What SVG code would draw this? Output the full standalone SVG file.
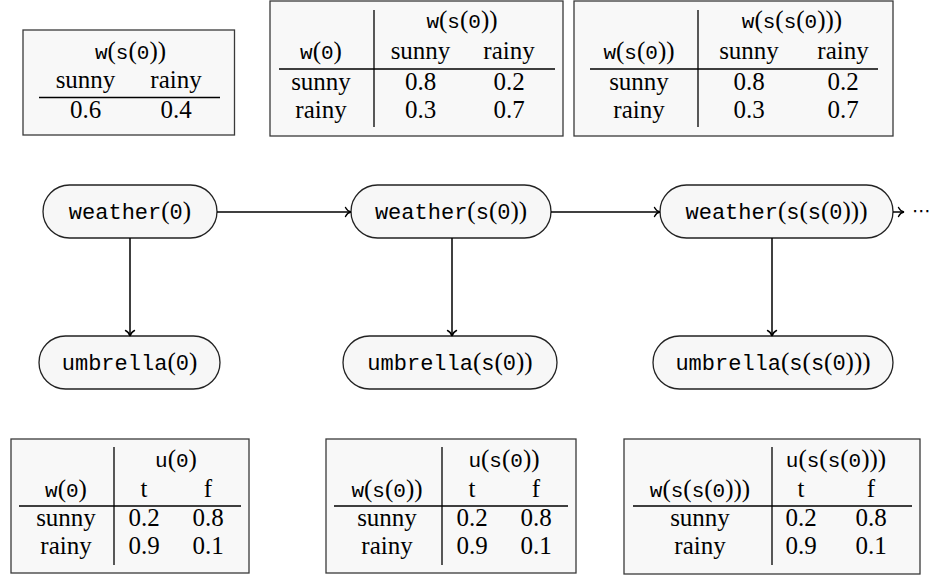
<svg xmlns="http://www.w3.org/2000/svg" width="935" height="577" viewBox="0 0 935 577">
  <defs>
    <style>
      text { font-family: "Liberation Serif", "DejaVu Serif", "Noto Serif", serif; }
      .rm { font-family: "Liberation Serif", "DejaVu Serif", "Noto Serif", serif; font-size: 25px; fill: #000; text-anchor: middle; }
      .tt { font-family: "Liberation Mono", "Courier New", monospace; font-size: 21px; }
      .nd .tt { font-size: 22px; }
      .nd { font-size: 26px; }
      .box { fill: #f8f8f8; stroke: #3a3a3a; stroke-width: 1.3; }
      .rule { stroke: #000; stroke-width: 1.3; }
      .node { fill: #f7f7f7; stroke: #222; stroke-width: 1.3; }
      .edge { fill: none; stroke: #000; stroke-width: 1.5; marker-end: url(#arrow); }
      .dots { font-family: "DejaVu Sans", sans-serif; font-size: 19px; fill: #000; }
    </style>
    <marker id="arrow" markerUnits="userSpaceOnUse" markerWidth="14" markerHeight="14" refX="0" refY="0" viewBox="-7 -7 14 14" orient="auto" overflow="visible">
      <path d="M-5.5,-4.5 C-4,-1.5 -1.5,-0.3 0,0 C-1.5,0.3 -4,1.5 -5.5,4.5" fill="none" stroke="#000" stroke-width="1.4" stroke-linecap="round"/>
    </marker>
  </defs>

  <!-- prior distribution of the first weather variable -->
  <g id="cpt_w0">
    <rect class="box" x="23" y="30" width="211.5" height="105"/>
    <text class="rm" x="130.5" y="58.5"><tspan class="tt">w</tspan>(<tspan class="tt">s</tspan>(<tspan class="tt">0</tspan>))</text>
    <text class="rm" x="85.5" y="88">sunny</text>
    <text class="rm" x="176" y="88">rainy</text>
    <line class="rule" x1="39" y1="97.5" x2="220" y2="97.5"/>
    <text class="rm" x="85.5" y="118">0.6</text>
    <text class="rm" x="176" y="118">0.4</text>
  </g>

  <!-- transition table w(0) -> w(s(0)) -->
  <g id="cpt_w1">
    <rect class="box" x="270" y="1" width="293" height="135"/>
    <line class="rule" x1="374" y1="10" x2="374" y2="127"/>
    <line class="rule" x1="279" y1="69" x2="555" y2="69"/>
    <text class="rm" x="462" y="28"><tspan class="tt">w</tspan>(<tspan class="tt">s</tspan>(<tspan class="tt">0</tspan>))</text>
    <text class="rm" x="321" y="58.5"><tspan class="tt">w</tspan>(<tspan class="tt">0</tspan>)</text>
    <text class="rm" x="420.5" y="58.5">sunny</text>
    <text class="rm" x="509" y="58.5">rainy</text>
    <text class="rm" x="321" y="89.5">sunny</text>
    <text class="rm" x="420.5" y="89.5">0.8</text>
    <text class="rm" x="509" y="89.5">0.2</text>
    <text class="rm" x="321" y="118">rainy</text>
    <text class="rm" x="420.5" y="118">0.3</text>
    <text class="rm" x="509" y="118">0.7</text>
  </g>

  <!-- transition table w(s(0)) -> w(s(s(0))) -->
  <g id="cpt_w2">
    <rect class="box" x="574" y="1" width="319" height="135"/>
    <line class="rule" x1="698" y1="10" x2="698" y2="127"/>
    <line class="rule" x1="590" y1="69" x2="878" y2="69"/>
    <text class="rm" x="792" y="28"><tspan class="tt">w</tspan>(<tspan class="tt">s</tspan>(<tspan class="tt">s</tspan>(<tspan class="tt">0</tspan>)))</text>
    <text class="rm" x="639" y="58.5"><tspan class="tt">w</tspan>(<tspan class="tt">s</tspan>(<tspan class="tt">0</tspan>))</text>
    <text class="rm" x="749" y="58.5">sunny</text>
    <text class="rm" x="843" y="58.5">rainy</text>
    <text class="rm" x="639" y="89.5">sunny</text>
    <text class="rm" x="749" y="89.5">0.8</text>
    <text class="rm" x="843" y="89.5">0.2</text>
    <text class="rm" x="639" y="118">rainy</text>
    <text class="rm" x="749" y="118">0.3</text>
    <text class="rm" x="843" y="118">0.7</text>
  </g>

  <!-- chain nodes -->
  <g id="weather_0" class="nd">
    <rect class="node" x="43" y="185" width="174" height="53" rx="26.5"/>
    <text class="rm" x="130" y="218.5"><tspan class="tt">weather</tspan>(<tspan class="tt">0</tspan>)</text>
  </g>
  <g id="weather_1" class="nd">
    <rect class="node" x="351" y="185" width="200" height="53" rx="26.5"/>
    <text class="rm" x="451" y="218.5"><tspan class="tt">weather</tspan>(<tspan class="tt">s</tspan>(<tspan class="tt">0</tspan>))</text>
  </g>
  <g id="weather_2" class="nd">
    <rect class="node" x="660" y="185" width="233" height="53" rx="26.5"/>
    <text class="rm" x="776.5" y="218.5"><tspan class="tt">weather</tspan>(<tspan class="tt">s</tspan>(<tspan class="tt">s</tspan>(<tspan class="tt">0</tspan>)))</text>
  </g>
  <g id="umbrella_0" class="nd">
    <rect class="node" x="39" y="336" width="181" height="53" rx="26.5"/>
    <text class="rm" x="129.5" y="369.5"><tspan class="tt">umbrella</tspan>(<tspan class="tt">0</tspan>)</text>
  </g>
  <g id="umbrella_1" class="nd">
    <rect class="node" x="343" y="336" width="214" height="53" rx="26.5"/>
    <text class="rm" x="450" y="369.5"><tspan class="tt">umbrella</tspan>(<tspan class="tt">s</tspan>(<tspan class="tt">0</tspan>))</text>
  </g>
  <g id="umbrella_2" class="nd">
    <rect class="node" x="653" y="336" width="240" height="53" rx="26.5"/>
    <text class="rm" x="773" y="369.5"><tspan class="tt">umbrella</tspan>(<tspan class="tt">s</tspan>(<tspan class="tt">s</tspan>(<tspan class="tt">0</tspan>)))</text>
  </g>
  <g id="continuation">
    <text class="dots" x="912" y="217">⋯</text>
  </g>

  <!-- connectors -->
  <g id="edges">
    <path class="edge" d="M217,212 H351"/>
    <path class="edge" d="M551,212 H660"/>
    <path class="edge" d="M893,212 H904"/>
    <path class="edge" d="M130,238 V336"/>
    <path class="edge" d="M452,238 V336"/>
    <path class="edge" d="M772,238 V336"/>
  </g>

  <!-- emission table w(0) -> u(0) -->
  <g id="cpt_u0">
    <rect class="box" x="11" y="439" width="238" height="134"/>
    <line class="rule" x1="114" y1="447" x2="114" y2="565"/>
    <line class="rule" x1="19" y1="506" x2="241" y2="506"/>
    <text class="rm" x="176" y="467"><tspan class="tt">u</tspan>(<tspan class="tt">0</tspan>)</text>
    <text class="rm" x="66" y="496.5"><tspan class="tt">w</tspan>(<tspan class="tt">0</tspan>)</text>
    <text class="rm" x="144" y="496.5">t</text>
    <text class="rm" x="208" y="496.5">f</text>
    <text class="rm" x="66" y="525.5">sunny</text>
    <text class="rm" x="144" y="525.5">0.2</text>
    <text class="rm" x="208" y="525.5">0.8</text>
    <text class="rm" x="66" y="553.5">rainy</text>
    <text class="rm" x="144" y="553.5">0.9</text>
    <text class="rm" x="208" y="553.5">0.1</text>
  </g>

  <!-- emission table w(s(0)) -> u(s(0)) -->
  <g id="cpt_u1">
    <rect class="box" x="326" y="439" width="250" height="134"/>
    <line class="rule" x1="442" y1="447" x2="442" y2="565"/>
    <line class="rule" x1="334" y1="506" x2="568" y2="506"/>
    <text class="rm" x="504" y="467"><tspan class="tt">u</tspan>(<tspan class="tt">s</tspan>(<tspan class="tt">0</tspan>))</text>
    <text class="rm" x="387" y="496.5"><tspan class="tt">w</tspan>(<tspan class="tt">s</tspan>(<tspan class="tt">0</tspan>))</text>
    <text class="rm" x="472" y="496.5">t</text>
    <text class="rm" x="536" y="496.5">f</text>
    <text class="rm" x="387" y="525.5">sunny</text>
    <text class="rm" x="472" y="525.5">0.2</text>
    <text class="rm" x="536" y="525.5">0.8</text>
    <text class="rm" x="387" y="553.5">rainy</text>
    <text class="rm" x="472" y="553.5">0.9</text>
    <text class="rm" x="536" y="553.5">0.1</text>
  </g>

  <!-- emission table w(s(s(0))) -> u(s(s(0))) -->
  <g id="cpt_u2">
    <rect class="box" x="624" y="439" width="296" height="135"/>
    <line class="rule" x1="772" y1="447" x2="772" y2="565"/>
    <line class="rule" x1="633" y1="506" x2="912" y2="506"/>
    <text class="rm" x="836" y="467"><tspan class="tt">u</tspan>(<tspan class="tt">s</tspan>(<tspan class="tt">s</tspan>(<tspan class="tt">0</tspan>)))</text>
    <text class="rm" x="700" y="496.5"><tspan class="tt">w</tspan>(<tspan class="tt">s</tspan>(<tspan class="tt">s</tspan>(<tspan class="tt">0</tspan>)))</text>
    <text class="rm" x="801" y="496.5">t</text>
    <text class="rm" x="871" y="496.5">f</text>
    <text class="rm" x="700" y="525.5">sunny</text>
    <text class="rm" x="801" y="525.5">0.2</text>
    <text class="rm" x="871" y="525.5">0.8</text>
    <text class="rm" x="700" y="553.5">rainy</text>
    <text class="rm" x="801" y="553.5">0.9</text>
    <text class="rm" x="871" y="553.5">0.1</text>
  </g>
</svg>
